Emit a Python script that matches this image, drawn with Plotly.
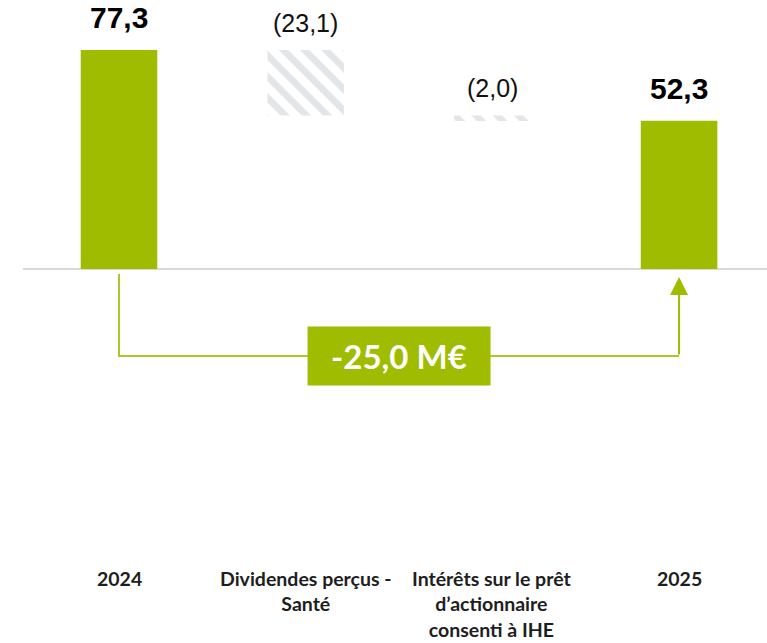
import plotly.graph_objects as go

categories = ["2024", "Dividendes perçus -<br>Santé",
              "Intérêts sur le prêt<br>d’actionnaire<br>consenti à IHE", "2025"]
start_value = 77.3
deltas = [-23.1, -2.0]
end_value = 52.3
total_change_label = "-25,0 M€"

GREEN = "#9fbc00"
LINE_GREEN = "#aac72e"
HATCH = "#c6cdd4"

# waterfall geometry from data
tot_x = [0, 3]
tot_y = [start_value, end_value]
running = start_value
d_x, d_base, d_len = [], [], []
for i, d in enumerate(deltas):
    new = running + d
    d_x.append(i + 1)
    d_base.append(min(running, new))
    d_len.append(abs(d))
    running = new

def fr(v, dec=1):
    return f"{v:.{dec}f}".replace(".", ",")

fig = go.Figure()
fig.add_trace(go.Bar(x=tot_x, y=tot_y, width=0.41, marker=dict(color=GREEN, line=dict(width=0)),
                     hoverinfo="skip"))
fig.add_trace(go.Bar(x=d_x, y=d_len, base=d_base, width=0.41,
                     marker=dict(color="white", line=dict(width=0),
                                 pattern=dict(shape="\\", fgcolor=HATCH, bgcolor="white",
                                              size=15, solidity=0.45)),
                     hoverinfo="skip"))

ann = []
for x, y in zip(tot_x, tot_y):
    ann.append(dict(x=x, y=y, text=f"<b>{fr(y)}</b>", showarrow=False, yanchor="bottom",
                    yshift=14, font=dict(family="Liberation Sans, Arial", size=30, color="#000")))
for x, b, l, d in zip(d_x, d_base, d_len, deltas):
    ann.append(dict(x=x, y=b + l, text=f"({fr(abs(d))})", showarrow=False, yanchor="bottom",
                    yshift=11, font=dict(family="Liberation Sans, Arial", size=25, color="#111")))
for i, c in enumerate(categories):
    ann.append(dict(x=i, y=0.122, yref="paper", text=f"<b>{c}</b>", showarrow=False,
                    yanchor="top", align="center",
                    font=dict(family="Lato, Calibri, sans-serif", size=19.5, color="#1e1e1e")))

conn_y = -30.7
# arrow up to 2025 bar
ann.append(dict(x=3, y=-2.8, ax=3, ay=conn_y, xref="x", yref="y", axref="x", ayref="y",
                showarrow=True, arrowhead=2, arrowsize=1.8, arrowwidth=2, arrowcolor=GREEN,
                text=""))
ann.append(dict(x=1.5, y=conn_y, text=f"<b>{total_change_label}</b>", showarrow=False,
                font=dict(family="Lato, Calibri, sans-serif", size=33, color="white")))

shapes = [
    dict(type="line", x0=-0.514, x1=3.48, y0=0, y1=0, xref="x", yref="y", layer="below",
         line=dict(color="#d9d9d9", width=2)),
    dict(type="path", path=f"M 0,-1.8 L 0,{conn_y} L 3,{conn_y}", line=dict(color=LINE_GREEN, width=2),
         xref="x", yref="y"),
    dict(type="rect", x0=1.5 - 0.49, x1=1.5 + 0.49, y0=conn_y - 10.4, y1=conn_y + 10.4,
         fillcolor=GREEN, line=dict(width=0), xref="x", yref="y"),
]

fig.update_layout(
    width=767, height=643, margin=dict(l=0, r=0, t=0, b=0),
    paper_bgcolor="white", plot_bgcolor="white", showlegend=False, barmode="overlay",
    xaxis=dict(range=[-0.6375, 3.471], showticklabels=False, showgrid=False, zeroline=False,
               fixedrange=True),
    yaxis=dict(range=[-132.0, 94.95], showticklabels=False, showgrid=False, zeroline=False,
               fixedrange=True),
    annotations=ann, shapes=shapes,
)
fig.write_html("out.html", config={"displayModeBar": False},
               post_script="document.body.style.margin='0';document.body.style.overflow='hidden';")
